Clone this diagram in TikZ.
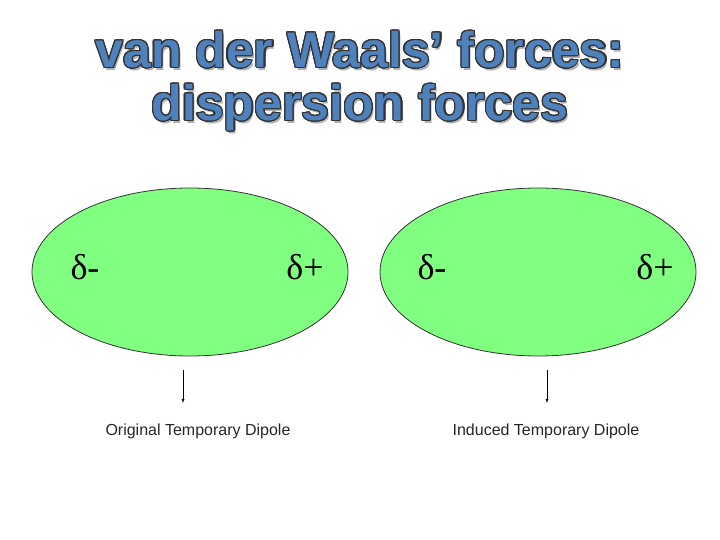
\documentclass[tikz,border=0pt]{standalone}
\usepackage{fontspec}
\setmainfont{Liberation Serif}
\setsansfont{Liberation Sans}
\usepackage[copies]{contour}
\usepackage{xcolor}
\definecolor{titleblue}{HTML}{4F81BD}
\definecolor{blobgreen}{HTML}{80FF80}
\contourlength{1.2pt}

\begin{document}
\begin{tikzpicture}[x = 1pt, y = -1pt]
		\def\ry{84};
		\def\rx{158};
		
		\useasboundingbox (0,0) rectangle (720,540);
		
		\tikzset{
			title/.style = {font = \sffamily\bfseries\fontsize{50}{50}\selectfont},
			charge/.style = {font = \rmfamily\fontsize{36}{36}\selectfont},
			caption/.style = {font = \sffamily\fontsize{16}{16}\selectfont, text = black!85}
		}
		
		% title, with shadow
		\node [title, text = black!30] at (362,53) {van der Waals’ forces:};
		\node [title, text = black!30] at (362,111) {dispersion forces};
		\node (title top) [title] at (360,50) {\contour{black!80}{\textcolor{titleblue}{van der Waals’ forces:}}};
		\node (title bottom) [title] at (360,108) {\contour{black!80}{\textcolor{titleblue}{dispersion forces}}};
		
		% the two molecules
		\filldraw [fill = blobgreen, draw = black!80, thick] (190,272) circle [x radius = \rx, y radius = \ry];
		\filldraw [fill = blobgreen, draw = black!80, thick] (538,272) circle [x radius = \rx, y radius = \ry];
		
		\node (left minus) [charge] at (85,267) {δ-};
		\node (left plus) [charge] at (305,267) {δ+};
		\node (right minus) [charge] at (432,267) {δ-};
		\node (right plus) [charge] at (655,267) {δ+};
		
		\coordinate (left arrow) at (183,370);
		\coordinate (right arrow) at (547,370);
		\draw [-latex] (left arrow) -- ++(0,33);
		\draw [-latex] (right arrow) -- ++(0,33);
		
		\node (original) [caption] at (198,431) {Original Temporary Dipole};
		\node (induced) [caption] at (546,431) {Induced Temporary Dipole};
	\end{tikzpicture}
\end{document}
